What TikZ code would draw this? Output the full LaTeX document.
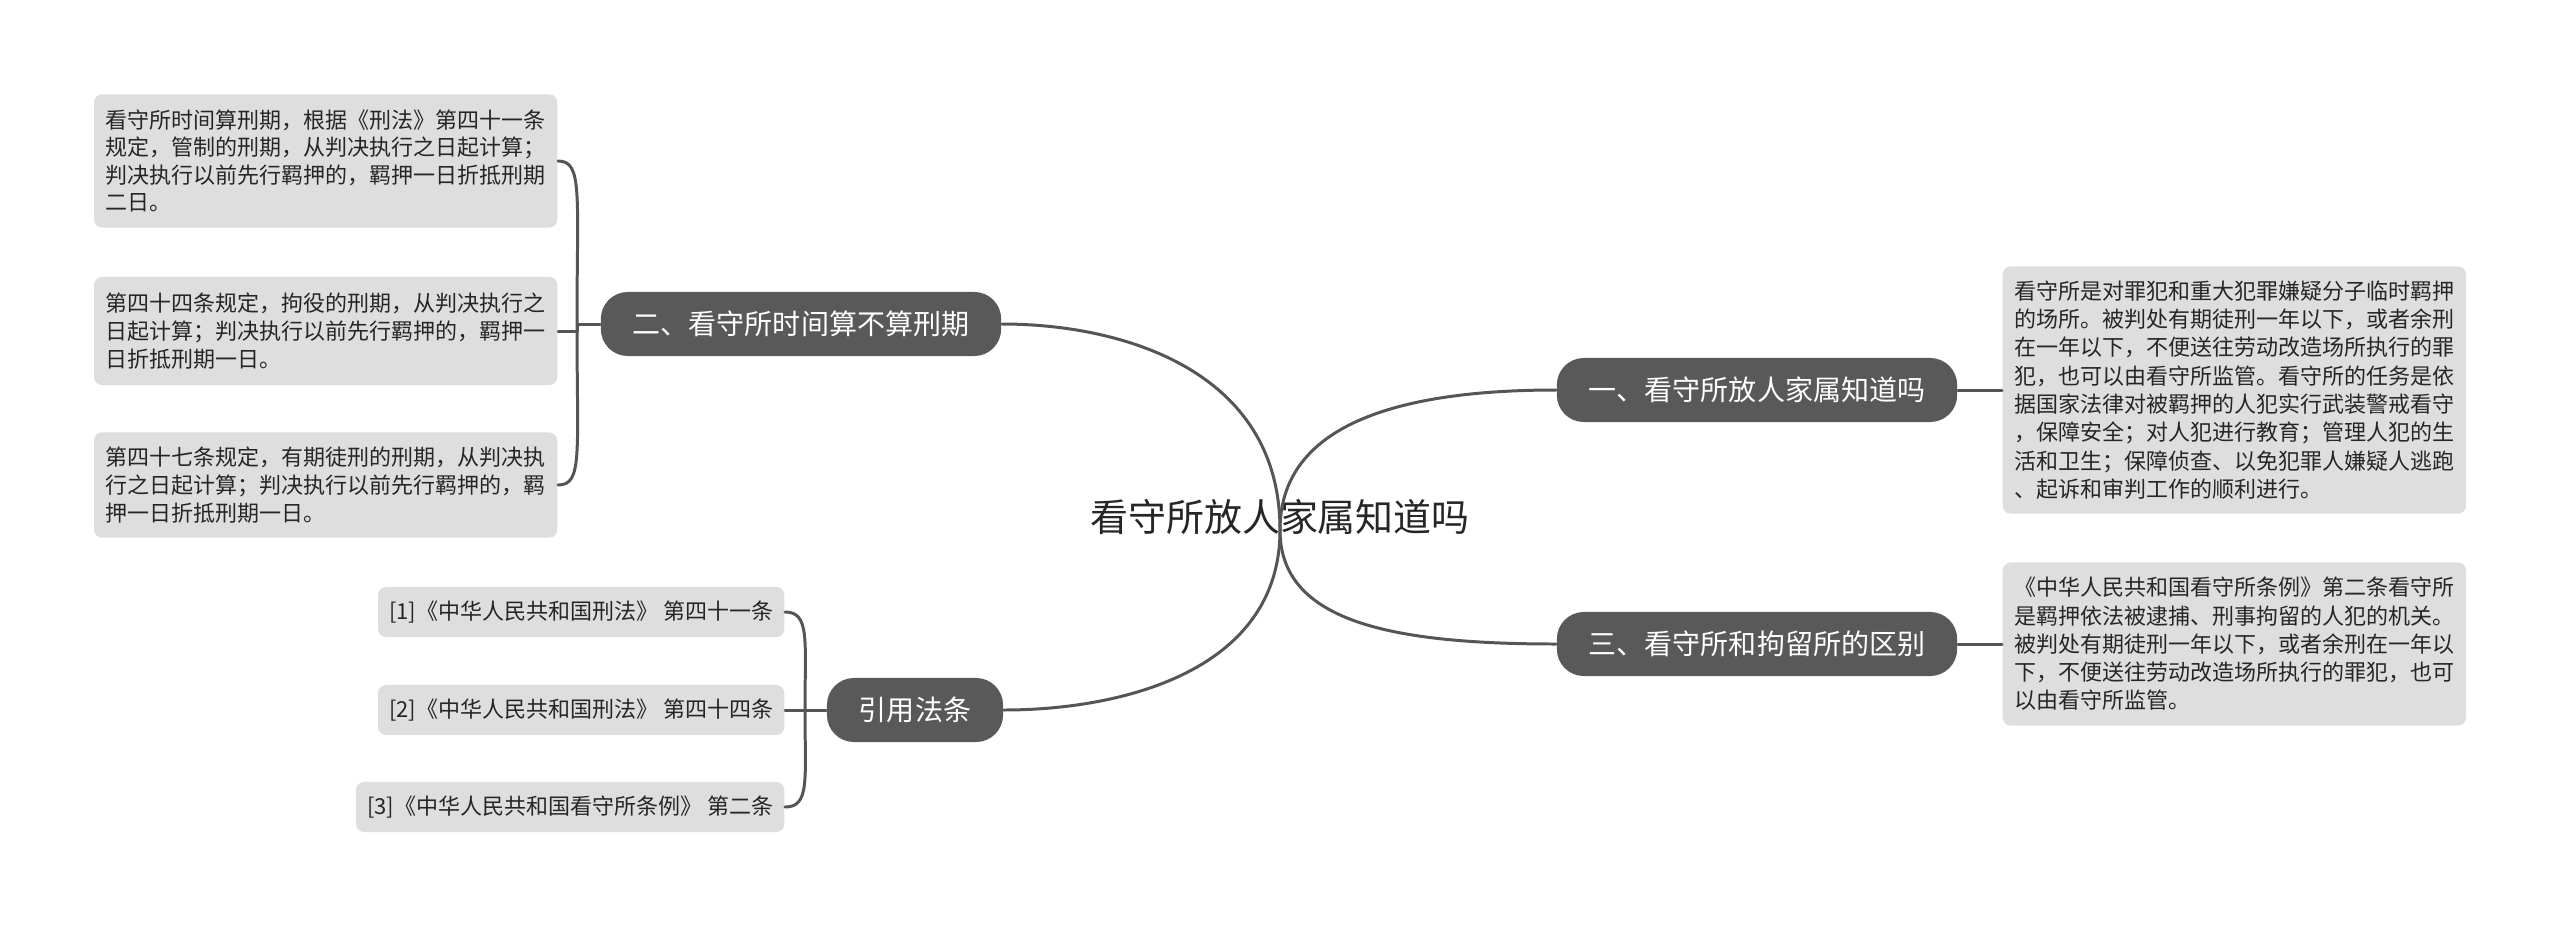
\documentclass[tikz,border=0pt]{standalone}
\usepackage{fontspec}
\newfontfamily\cjk{Noto Sans CJK SC}
\definecolor{topicgray}{HTML}{595959}
\definecolor{leafgray}{HTML}{DEDEDE}
\definecolor{linkgray}{HTML}{555555}
\definecolor{inkgray}{HTML}{262626}
\begin{document}
\begin{tikzpicture}[x=0.01cm,y=-0.01cm,font=\cjk,line join=round,line cap=round,
	link/.style={draw=linkgray,line width=0.85pt},
	topic/.style={fill=topicgray,text=white,rounded corners=0.27cm,minimum height=0.64cm,inner xsep=0.32cm,font=\cjk\fontsize{7.97pt}{9pt}\selectfont},
	leaf/.style={fill=leafgray,text=inkgray,rounded corners=0.08cm,align=left,inner xsep=0.11cm,font=\cjk\fontsize{6.26pt}{7.85pt}\selectfont}]
	\useasboundingbox[fill=white] (0,0) rectangle (2560,927);
	\node[text=inkgray,font=\cjk\fontsize{10.8pt}{12pt}\selectfont] (root) at (1280,517) {看守所放人家属知道吗};
	\coordinate (hub) at (1280,530);
	\node[topic] (t1) at (1757,390) {一、看守所放人家属知道吗};
	\node[topic] (t2) at (801,324) {二、看守所时间算不算刑期};
	\node[topic] (t3) at (1757,644) {三、看守所和拘留所的区别};
	\node[topic] (t4) at (915,710) {引用法条};
	\draw[link] (hub) .. controls +(0,-160) and +(120,0) .. (t2.east);
	\draw[link] (hub) .. controls +(0,140) and +(120,0) .. (t4.east);
	\draw[link] (hub) .. controls +(0,-100) and +(-170,0) .. (t1.west);
	\draw[link] (hub) .. controls +(0,90) and +(-170,0) .. (t3.west);
	% left leaves
	\node[leaf,anchor=east,minimum width=4.63cm,minimum height=1.33cm] (l1) at (558,161) {看守所时间算刑期，根据《刑法》第四十一条\\规定，管制的刑期，从判决执行之日起计算；\\判决执行以前先行羁押的，羁押一日折抵刑期\\二日。};
	\node[leaf,anchor=east,minimum width=4.63cm,minimum height=1.08cm] (l2) at (558,331) {第四十四条规定，拘役的刑期，从判决执行之\\日起计算；判决执行以前先行羁押的，羁押一\\日折抵刑期一日。};
	\node[leaf,anchor=east,minimum width=4.63cm,minimum height=1.05cm] (l3) at (558,485) {第四十七条规定，有期徒刑的刑期，从判决执\\行之日起计算；判决执行以前先行羁押的，羁\\押一日折抵刑期一日。};
	\coordinate (j2) at (577,324);
	\draw[link] (t2.west) -- (j2) |- (l2.east);
	\foreach \n/\d in {l1/-130,l3/130}
		\draw[link] (j2) .. controls +(0,\d) and +(25,0) .. (\n.east);
	% right leaves
	\node[leaf,anchor=west,minimum width=4.63cm,minimum height=2.47cm,font=\cjk\fontsize{6.26pt}{8.05pt}\selectfont] (r1) at (2002,390) {看守所是对罪犯和重大犯罪嫌疑分子临时羁押\\的场所。被判处有期徒刑一年以下，或者余刑\\在一年以下，不便送往劳动改造场所执行的罪\\犯，也可以由看守所监管。看守所的任务是依\\据国家法律对被羁押的人犯实行武装警戒看守\\，保障安全；对人犯进行教育；管理人犯的生\\活和卫生；保障侦查、以免犯罪人嫌疑人逃跑\\、起诉和审判工作的顺利进行。};
	\node[leaf,anchor=west,minimum width=4.63cm,minimum height=1.63cm,font=\cjk\fontsize{6.26pt}{8.05pt}\selectfont] (r3) at (2002,644) {《中华人民共和国看守所条例》第二条看守所\\是羁押依法被逮捕、刑事拘留的人犯的机关。\\被判处有期徒刑一年以下，或者余刑在一年以\\下，不便送往劳动改造场所执行的罪犯，也可\\以由看守所监管。};
	\draw[link] (t1.east) -- (r1.west);
	\draw[link] (t3.east) -- (r3.west);
	% cited laws
	\node[leaf,anchor=east,minimum height=0.5cm] (c1) at (785,612) {[1]《中华人民共和国刑法》 第四十一条};
	\node[leaf,anchor=east,minimum height=0.5cm] (c2) at (785,710) {[2]《中华人民共和国刑法》 第四十四条};
	\node[leaf,anchor=east,minimum height=0.5cm] (c3) at (785,807) {[3]《中华人民共和国看守所条例》 第二条};
	\coordinate (j4) at (805,710);
	\draw[link] (t4.west) -- (c2.east);
	\foreach \n/\d in {c1/-70,c3/70}
		\draw[link] (j4) .. controls +(0,\d) and +(25,0) .. (\n.east);
\end{tikzpicture}
\end{document}
